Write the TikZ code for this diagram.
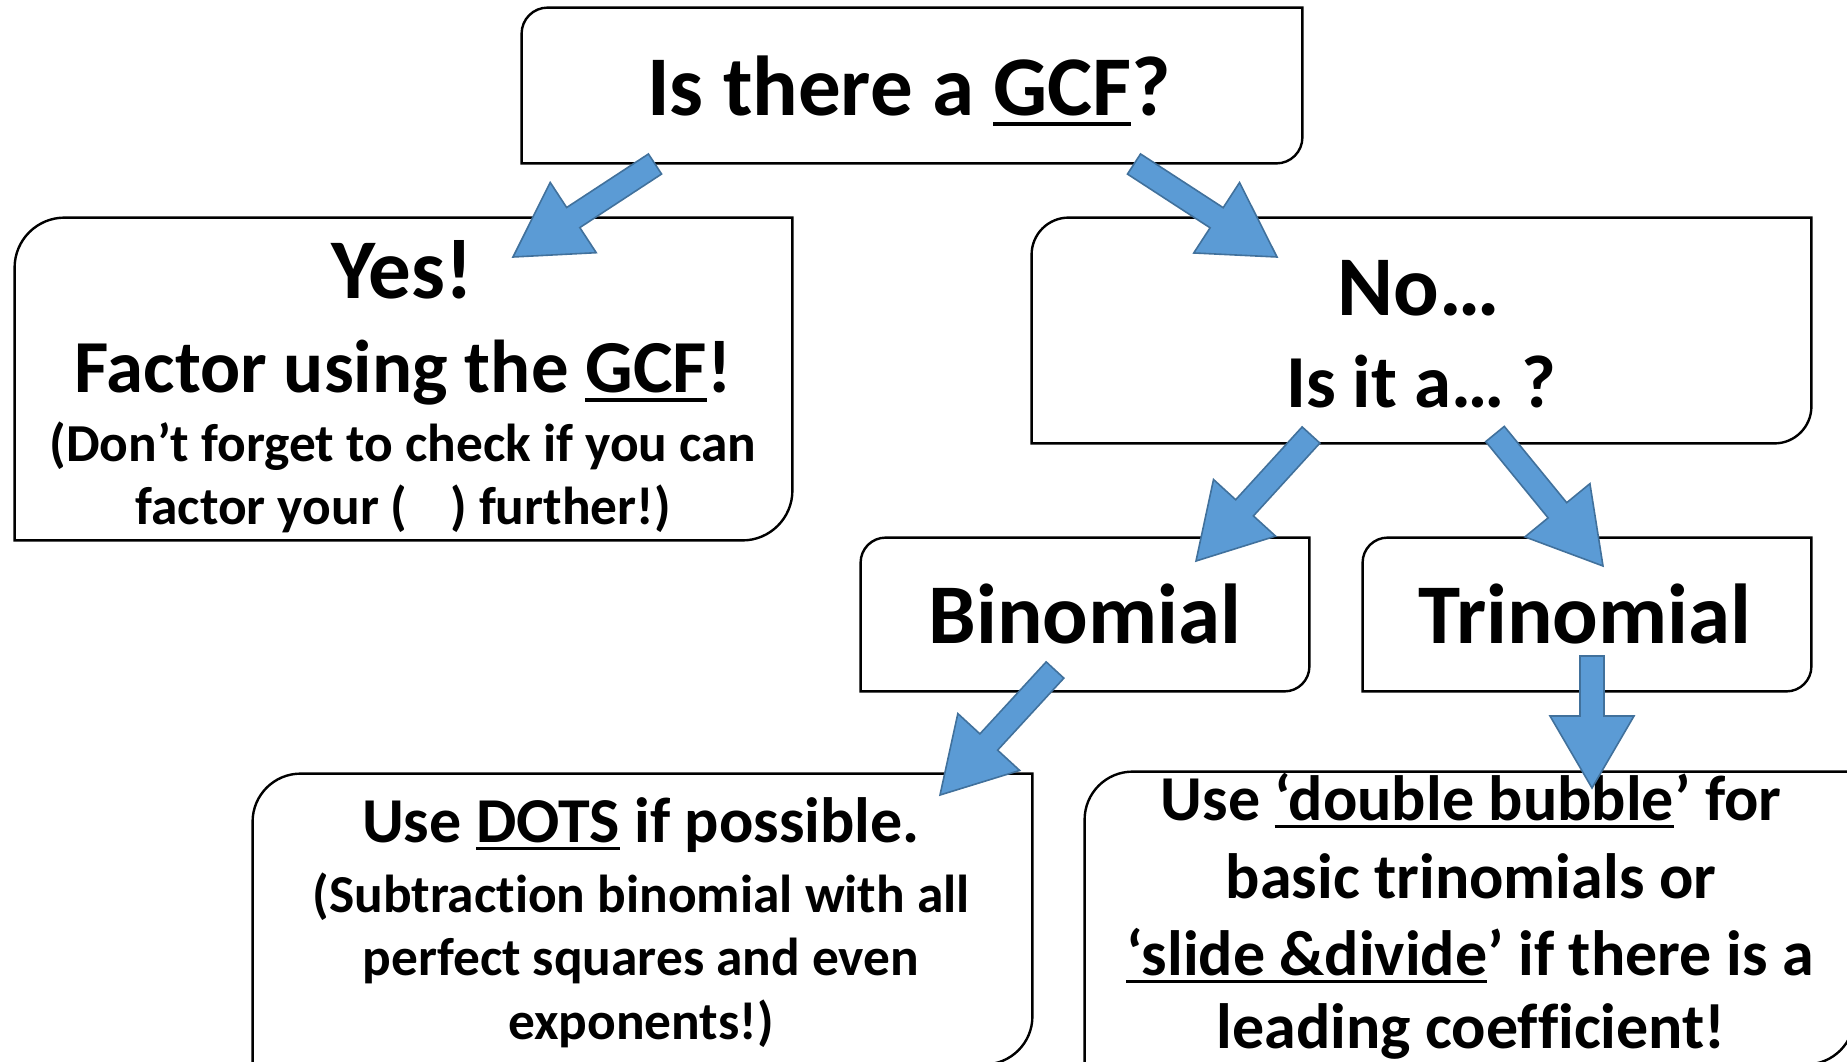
\documentclass[tikz,border=0pt]{standalone}
\usepackage{fontspec}
\setmainfont{Carlito}[Ligatures={NoCommon}]
\usepackage{tikz}
\usetikzlibrary{calc}

\definecolor{arrowblue}{HTML}{5B9BD5}
\definecolor{arrowedge}{HTML}{41719C}

\newcommand{\uln}[1]{\setbox0=\hbox{#1}\rlap{\rule[-0.13em]{\wd0}{0.045em}}\box0\relax}

% box with round top left and bottom right corners
\newcommand{\diagbox}[2]{%
	\draw[boxline] (#1.south west) -- ([yshift=-#2]#1.north west)
		arc[start angle=180, end angle=90, radius=#2] -- (#1.north east)
		-- ([yshift=#2]#1.south east) arc[start angle=0, end angle=-90, radius=#2] -- cycle;
}

% fat arrow from tail to tip
\newcommand{\blockarrow}[2]{%
	\coordinate (neck) at ($(#2)!36pt!(#1)$);
	\filldraw[bluearrow] ($(#1)!6pt!90:(#2)$) -- ($(neck)!6pt!90:(#2)$)
		-- ($(neck)!21pt!90:(#2)$) -- (#2) -- ($(neck)!21pt!-90:(#2)$)
		-- ($(neck)!6pt!-90:(#2)$) -- ($(#1)!6pt!-90:(#2)$) -- cycle;
}

\tikzset{
	boxnode/.style={rectangle, inner sep=0pt},
	boxline/.style={draw=black, line width=1.2pt, fill=white},
	bluearrow/.style={fill=arrowblue, draw=arrowedge, line width=0.8pt, line join=miter},
	txtxl/.style={font=\bfseries\fontsize{42.5}{51}\selectfont, anchor=base},
	txtl/.style={font=\bfseries\fontsize{37.4}{45}\selectfont, anchor=base},
	txtm/.style={font=\bfseries\fontsize{32}{38}\selectfont, anchor=base},
	txts/.style={font=\bfseries\fontsize{26.7}{32}\selectfont, anchor=base},
}

\begin{document}
\begin{tikzpicture}[x=0.5pt, y=-0.5pt]

	\useasboundingbox (0,0) rectangle (1847,1061);
	\clip (0,0) rectangle (1847,1061);

	% boxes
	\node[boxnode, minimum width=390pt, minimum height=77.5pt] (gcf) at (912,85.5) {};
	\node[boxnode, minimum width=388.5pt, minimum height=161pt] (yes) at (403.5,379) {};
	\node[boxnode, minimum width=389.5pt, minimum height=112.5pt] (no) at (1421.5,330.5) {};
	\node[boxnode, minimum width=224pt, minimum height=76.5pt] (bin) at (1085,614.5) {};
	\node[boxnode, minimum width=224pt, minimum height=76.5pt] (tri) at (1587,614.5) {};
	\node[boxnode, minimum width=389.5pt, minimum height=145pt] (dots) at (642.5,919) {};
	\node[boxnode, minimum width=384.5pt, minimum height=146pt] (bubble) at (1469.5,918) {};

	\diagbox{gcf}{13pt}
	\diagbox{yes}{25pt}
	\diagbox{no}{18.5pt}
	\diagbox{bin}{12.5pt}
	\diagbox{tri}{12.5pt}
	\diagbox{dots}{24pt}
	\diagbox{bubble}{24pt}

	% texts
	\node[txtxl] (gcftxt) at (909,115) {Is there a \uln{GCF}?};

	\node[txtxl] (yes1) at (402,298) {Yes!};
	\node[txtl] (yes2) at (403,392) {Factor using the \uln{GCF}!};
	\node[txts] (yes3) at (403,461) {(Don’t forget to check if you can};
	\node[txts] (yes4) at (403,524) {factor your (\hspace{0.8em}) further!)};

	\node[txtxl] (no1) at (1419,315) {No…};
	\node[txtl] (no2) at (1421,407) {Is it a… ?};

	\node[txtxl] (bintxt) at (1085,643) {Binomial};
	\node[txtxl] (tritxt) at (1585,643) {Trinomial};

	\node[txtm] (dots1) at (641,842) {Use \uln{DOTS} if possible.};
	\node[txts] (dots2) at (641,912) {(Subtraction binomial with all};
	\node[txts] (dots3) at (641,975) {perfect squares and even};
	\node[txts] (dots4) at (641,1039) {exponents!)};

	\node[txtm] (bub1) at (1471,820) {Use \uln{‘double bubble}’ for};
	\node[txtm] (bub2) at (1471,898) {basic trinomials or};
	\node[txtm] (bub3) at (1470,975) {\uln{‘slide \&divide}’ if there is a};
	\node[txtm] (bub4) at (1471,1048) {leading coefficient!};

	% arrows
	\coordinate (t1) at (655,164);
	\coordinate (h1) at (513,257);
	\coordinate (t2) at (1134,164);
	\coordinate (h2) at (1277,257);
	\coordinate (t3) at (1311,435);
	\coordinate (h3) at (1196,561);
	\coordinate (t4) at (1495,434);
	\coordinate (h4) at (1603,566);
	\coordinate (t5) at (1055,670);
	\coordinate (h5) at (940,795);
	\coordinate (t6) at (1592,656);
	\coordinate (h6) at (1592,788);

	\blockarrow{t1}{h1}
	\blockarrow{t2}{h2}
	\blockarrow{t3}{h3}
	\blockarrow{t4}{h4}
	\blockarrow{t5}{h5}
	\blockarrow{t6}{h6}

\end{tikzpicture}
\end{document}
